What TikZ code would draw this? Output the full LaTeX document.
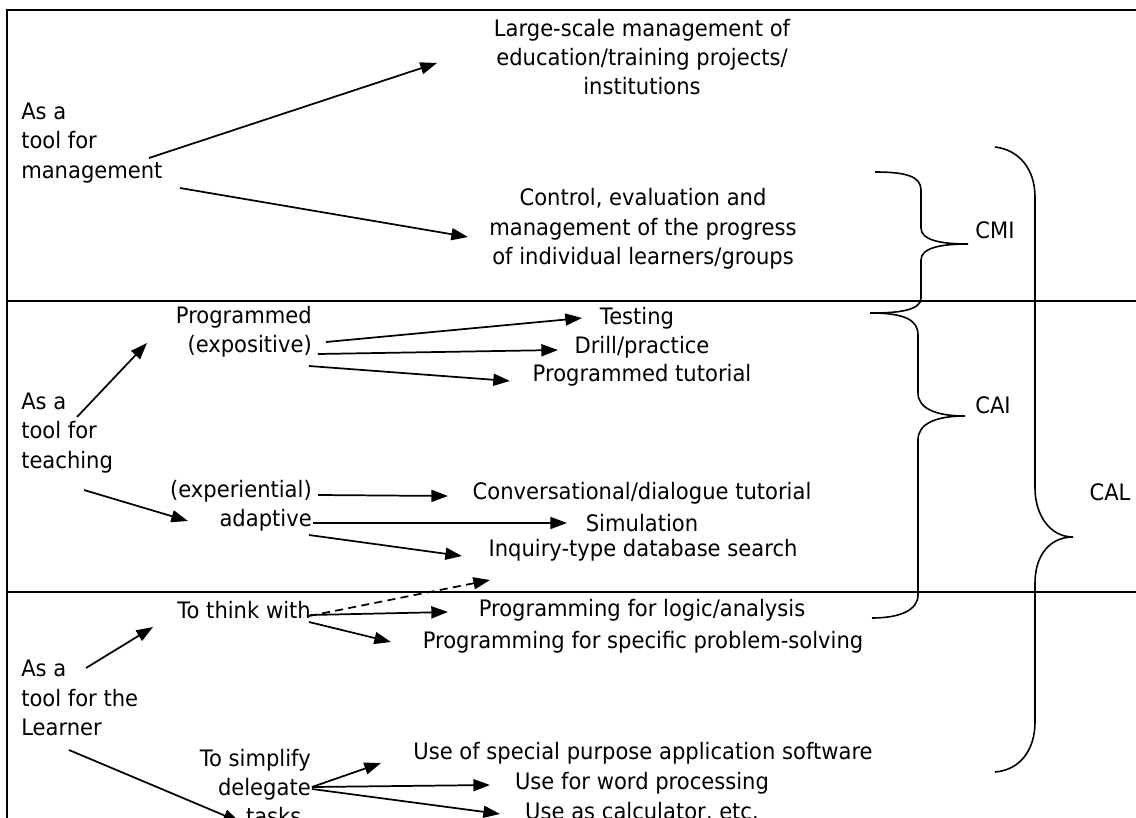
\documentclass[tikz,border=0pt]{standalone}
\usepackage{fontspec}
\setmainfont{DejaVu Sans}[FakeStretch=0.93]
\usetikzlibrary{arrows.meta}

\begin{document}
\begin{tikzpicture}[x=0.75pt, y=-0.75pt,
  lbl/.style={font=\fontsize{17}{22}\selectfont, inner sep=0pt},
  arr/.style={line width=1.3pt, -{Triangle[length=12.5pt, width=9pt]}},
  dasharr/.style={arr, dash pattern=on 6pt off 4pt},
  frame/.style={line width=1.5pt},
  sep/.style={line width=1.3pt},
  brace/.style={line width=1.2pt}
]
\useasboundingbox (0,0) rectangle (1136,818);

% frame and band separators
\draw[frame] (7,830) -- (7,10) -- (1140,10);
\draw[sep] (7,301) -- (1140,301);
\draw[sep] (7,592) -- (1140,592);

% ---- management band
\node[lbl, align=left, anchor=west] (mgmt) at (21,143) {As a\\tool for\\management};
\node[lbl, align=center] (large) at (642,57) {Large-scale management of\\education/training projects/\\institutions};
\node[lbl, align=center] (ctrl) at (643,229) {Control, evaluation and\\management of the progress\\of individual learners/groups};

% ---- teaching band
\node[lbl, align=left, anchor=west] (teach) at (21,433) {As a\\tool for\\teaching};
\node[lbl, align=right, anchor=east] (prog) at (312,332) {Programmed\\(expositive)};
\node[lbl] (test) at (637,318) {Testing};
\node[lbl] (drill) at (642,347) {Drill/practice};
\node[lbl] (ptut) at (642,375) {Programmed tutorial};
\node[lbl, align=right, anchor=east] (adapt) at (312,506) {(experiential)\\adaptive};
\node[lbl] (conv) at (642,493) {Conversational/dialogue tutorial};
\node[lbl] (sim) at (642,523) {Simulation};
\node[lbl] (inq) at (643,550) {Inquiry-type database search};

% ---- learner band
\node[lbl, align=left, anchor=west] (learn) at (21,698) {As a\\tool for the\\Learner};
\node[lbl, anchor=east] (think) at (311,610) {To think with};
\node[lbl] (logic) at (642,610) {Programming for logic/analysis};
\node[lbl] (prob) at (643,642) {Programming for specific problem-solving};
\node[lbl, align=right, anchor=east] (simp) at (311,787) {To simplify\\delegate\\tasks\hspace*{7pt}};
\node[lbl] (spec) at (643,753) {Use of special purpose application software};
\node[lbl] (word) at (642,783) {Use for word processing};
\node[lbl] (calc) at (642,812) {Use as calculator, etc.};

% ---- brace labels
\node[lbl] (cmi) at (995,230) {CMI};
\node[lbl] (cai) at (993,405) {CAI};
\node[lbl] (cal) at (1110,492) {CAL};

% connector end points
\coordinate (a1s) at (149,158);  \coordinate (a1e) at (437,63);
\coordinate (a2s) at (180,188);  \coordinate (a2e) at (468,237);
\coordinate (b1s) at (77,417);   \coordinate (b1e) at (147,343);
\coordinate (b2s) at (84,490);   \coordinate (b2e) at (188,521);
\coordinate (t1s) at (326,342);  \coordinate (t1e) at (582,318);
\coordinate (t2s) at (318,354);  \coordinate (t2e) at (558,350);
\coordinate (t3s) at (309,366);  \coordinate (t3e) at (510,381);
\coordinate (e1s) at (318,495);  \coordinate (e1e) at (448,496);
\coordinate (e2s) at (313,523);  \coordinate (e2e) at (567,523);
\coordinate (e3s) at (309,535);  \coordinate (e3e) at (462,556);
\coordinate (dds) at (309,616);  \coordinate (dde) at (490,580);
\coordinate (l1s) at (310,615);  \coordinate (l1e) at (448,612);
\coordinate (l2s) at (309,622);  \coordinate (l2e) at (391,642);
\coordinate (c1s) at (86,668);   \coordinate (c1e) at (153,627);
\coordinate (c2s) at (69,750);   \coordinate (c2e) at (240,822);
\coordinate (dsrc) at (312,787);
\coordinate (d1e) at (381,763);
\coordinate (d2e) at (490,785);
\coordinate (d3e) at (500,814);

% connectors
\draw[arr] (a1s) -- (a1e);
\draw[arr] (a2s) -- (a2e);
\draw[arr] (b1s) -- (b1e);
\draw[arr] (b2s) -- (b2e);
\draw[arr] (t1s) -- (t1e);
\draw[arr] (t2s) -- (t2e);
\draw[arr] (t3s) -- (t3e);
\draw[arr] (e1s) -- (e1e);
\draw[arr] (e2s) -- (e2e);
\draw[arr] (e3s) -- (e3e);
\draw[dasharr] (dds) -- (dde);
\draw[arr] (l1s) -- (l1e);
\draw[arr] (l2s) -- (l2e);
\draw[arr] (c1s) -- (c1e);
\draw[arr] (c2s) -- (c2e);
\draw[arr] (dsrc) -- (d1e);
\draw[arr] (dsrc) -- (d2e);
\draw[arr] ([yshift=-1.5pt]dsrc) -- (d3e);

% braces
\draw[brace] (875,172) .. controls (905,172) and (921,176) .. (921,190)
  -- (921,228) .. controls (921,240) and (940,244) .. (968,244)
  .. controls (940,244) and (921,248) .. (921,260)
  -- (921,298) .. controls (921,310) and (900,313) .. (872,313);
\draw[brace] (870,313) .. controls (905,313) and (918,320) .. (918,335)
  -- (918,393) .. controls (918,408) and (935,416) .. (965,416)
  .. controls (935,416) and (918,424) .. (918,440)
  -- (918,595) .. controls (918,610) and (900,618) .. (872,618);
\draw[brace] (995,147) .. controls (1020,150) and (1035,170) .. (1035,197)
  -- (1035,488) .. controls (1035,515) and (1050,537) .. (1073,537)
  .. controls (1050,537) and (1035,555) .. (1035,583)
  -- (1035,722) .. controls (1035,750) and (1020,770) .. (995,772);
\end{tikzpicture}
\end{document}
